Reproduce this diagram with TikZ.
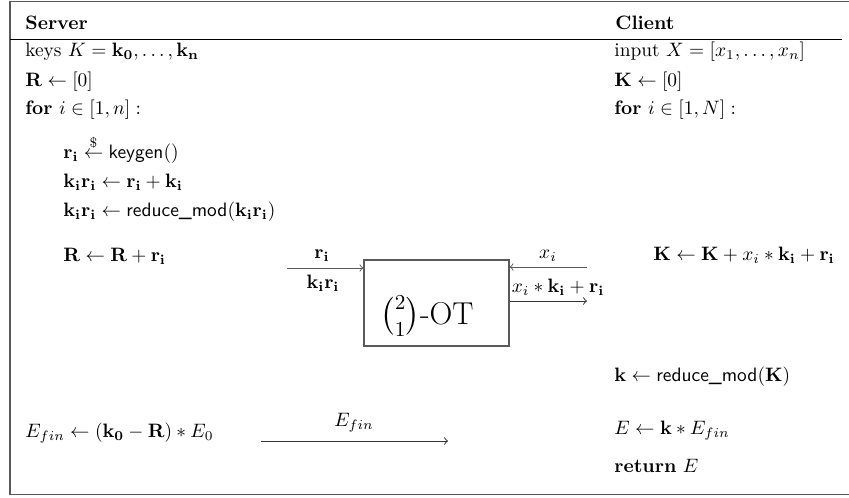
\documentclass[tikz,border=0pt]{standalone}
\usepackage{amsmath}
\usepackage{amssymb}
\begin{document}
\begin{tikzpicture}[x=0.5154pt,y=-0.5154pt,
  txt/.style={anchor=west,inner sep=0pt},
  lbl/.style={inner sep=0pt},
  frame/.style={draw=black!65,line width=0.7pt},
  arr/.style={->,line width=0.5pt,draw=black!80}]
\useasboundingbox (0,0) rectangle (849,498);
\draw[frame] (10,1.5) rectangle (852,494.5);
\node[txt] (srv) at (25,23) {\textbf{Server}};
\node[txt] (cli) at (615,23) {\textbf{Client}};
\coordinate (hl) at (10,39.5);
\coordinate (hr) at (842,39.5);
\draw[line width=0.5pt] (hl) -- (hr);
% server column
\node[txt] (s1) at (25,52) {keys $K = \mathbf{k_0}, \dots, \mathbf{k_n}$};
\node[txt] (s2) at (25,82) {$\mathbf{R} \leftarrow [0]$};
\node[txt] (s3) at (25,110) {\textbf{for} $i \in [1, n]:$};
\node[txt] (s4) at (63,149) {$\mathbf{r_i} \stackrel{\$}{\leftarrow} \textsf{keygen}()$};
\node[txt] (s5) at (63,182) {$\mathbf{k_i r_i} \leftarrow \mathbf{r_i} + \mathbf{k_i}$};
\node[txt] (s6) at (63,212) {$\mathbf{k_i r_i} \leftarrow \textsf{reduce\_mod}(\mathbf{k_i r_i})$};
\node[txt] (s7) at (63,256) {$\mathbf{R} \leftarrow \mathbf{R} + \mathbf{r_i}$};
\node[txt] (s8) at (25,433) {$E_{fin} \leftarrow (\mathbf{k_0} - \mathbf{R}) * E_0$};
% client column
\node[txt] (c1) at (614,52) {input $X = [x_1, \dots, x_n]$};
\node[txt] (c2) at (614,82) {$\mathbf{K} \leftarrow [0]$};
\node[txt] (c3) at (614,110) {\textbf{for} $i \in [1, N]:$};
\node[txt] (c4) at (653,255) {$\mathbf{K} \leftarrow \mathbf{K} + x_i * \mathbf{k_i} + \mathbf{r_i}$};
\node[txt] (c5) at (614,377) {$\mathbf{k} \leftarrow \textsf{reduce\_mod}(\mathbf{K})$};
\node[txt] (c6) at (614,431) {$E \leftarrow \mathbf{k} * E_{fin}$};
\node[txt] (c7) at (614,466) {\textbf{return} $E$};
% OT box
\node[draw=black!65,line width=0.7pt,minimum width=74.7pt,minimum height=44.3pt,inner sep=0pt] (ot) at (436.5,303) {};
\node[lbl] (otl) at (427,316) {\fontsize{16.3}{19.6}\selectfont$\binom{2}{1}$-OT};
% left inputs
\coordinate (la) at (287,268);
\draw[arr,draw=black!65] (la) -- (la -| ot.west);
\node[lbl] (lr) at (322,256) {$\mathbf{r_i}$};
\node[lbl] (lkr) at (323,283) {$\mathbf{k_i r_i}$};
% right side
\coordinate (ra) at (587,267);
\draw[arr,draw=black!65] (ra) -- (ra -| ot.east);
\node[lbl] (xi) at (548,256) {$x_i$};
\coordinate (rb) at (587,301);
\draw[arr] (rb -| ot.east) -- (rb);
\node[lbl] (xk) at (558,287) {$x_i * \mathbf{k_i} + \mathbf{r_i}$};
% final transfer
\coordinate (ea) at (261,441);
\coordinate (eb) at (448,441);
\draw[arr] (ea) -- (eb);
\node[lbl] (ef) at (354,423) {$E_{fin}$};
\end{tikzpicture}
\end{document}
